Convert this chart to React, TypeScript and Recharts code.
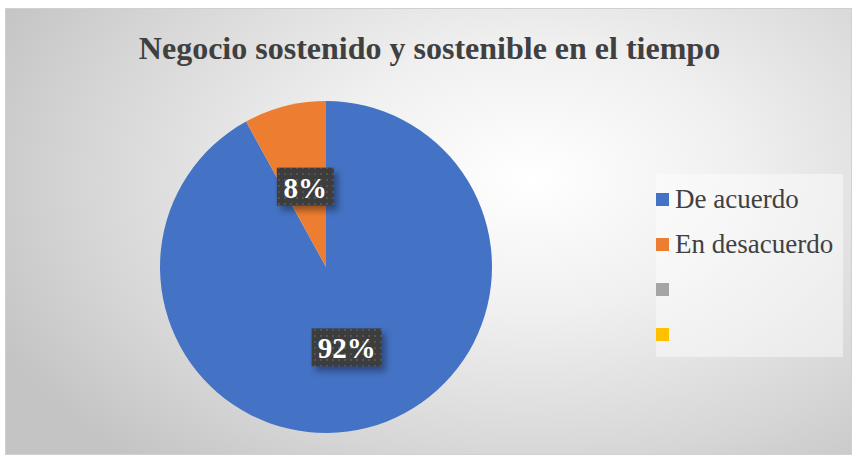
import { Pie, PieChart, Cell } from "recharts";

const categories = ["De acuerdo", "En desacuerdo", "", ""];
const values = [92, 8, 0, 0];
const colors = ["#4472C4", "#ED7D31", "#A5A5A5", "#FFC000"];
const title = "Negocio sostenido y sostenible en el tiempo";

const data = categories.map((name, i) => ({ name, value: values[i] }));

const RAD = Math.PI / 180;
const serif = "'Liberation Serif', 'Times New Roman', serif";

function PctLabel(props: any) {
  const { cx, cy, midAngle, outerRadius, percent, value } = props;
  if (!value) return null;
  const r = outerRadius * 0.5;
  const x = cx + r * Math.cos(-midAngle * RAD);
  const y = cy + r * Math.sin(-midAngle * RAD);
  const text = `${Math.round(percent * 100)}%`;
  const w = text.length * 13 + 31;
  const h = 38;
  return (
    <g>
      <rect x={x - w / 2 + 4} y={y - h / 2 + 5} width={w} height={h} fill="#000" opacity={0.35} filter="url(#blur)" />
      <rect x={x - w / 2} y={y - h / 2} width={w} height={h} fill="url(#dots)" />
      <text
        x={x}
        y={y + 1}
        textAnchor="middle"
        dominantBaseline="central"
        fill="#fff"
        fontFamily={serif}
        fontWeight="bold"
        fontSize={29}
      >
        {text}
      </text>
    </g>
  );
}

function LegendBox() {
  return (
    <div
      style={{
        position: "absolute",
        left: 655,
        top: 173,
        width: 187,
        height: 183,
        background: "rgba(255,255,255,0.45)",
        fontFamily: serif,
        fontSize: 27,
        color: "#404040",
      }}
    >
      {categories.map((name, i) => (
        <div key={i} style={{ position: "absolute", left: 0, top: 10 + i * 45, height: 30, display: "flex", alignItems: "center", whiteSpace: "nowrap" }}>
          <span style={{ display: "inline-block", width: 13, height: 13, background: colors[i], marginRight: 6 }} />
          <span>{name}</span>
        </div>
      ))}
    </div>
  );
}

export default function App() {
  return (
    <div style={{ position: "absolute", left: 0, top: 0, width: 857, height: 460, background: "#fff" }}>
      <div
        style={{
          position: "absolute",
          left: 5,
          top: 8,
          width: 847,
          height: 447,
          border: "1px solid #d0d0d0",
          boxSizing: "border-box",
          background: "radial-gradient(ellipse 70% 85% at 62% 38%, #ffffff 0%, #f0f0f0 35%, #d6d6d6 75%, #c4c4c4 100%)",
        }}
      >
        <div
          style={{
            position: "absolute",
            left: 0,
            top: 21,
            width: 847,
            textAlign: "center",
            fontFamily: serif,
            fontWeight: "bold",
            fontSize: 32,
            color: "#404040",
          }}
        >
          {title}
        </div>
        <PieChart
          width={847}
          height={447}
          margin={{ top: 0, right: 0, bottom: 0, left: 0 }}
          style={{ position: "absolute", left: 0, top: 0 }}
        >
          <defs>
            <pattern id="dots" width="6" height="6" patternUnits="userSpaceOnUse">
              <rect width="6" height="6" fill="#3d3d3d" />
              <rect x="2" y="2" width="2" height="2" fill="#545454" />
            </pattern>
            <filter id="blur" x="-20%" y="-20%" width="140%" height="140%">
              <feGaussianBlur stdDeviation="3" />
            </filter>
          </defs>
          <Pie
            data={data}
            dataKey="value"
            nameKey="name"
            cx={320}
            cy={258}
            outerRadius={166}
            startAngle={90}
            endAngle={-270}
            stroke="none"
            label={PctLabel}
            labelLine={false}
            isAnimationActive={false}
          >
            {data.map((_, i) => (
              <Cell key={i} fill={colors[i]} />
            ))}
          </Pie>
        </PieChart>
        <div style={{ position: "absolute", left: -5, top: -8 }}>
          <LegendBox />
        </div>
      </div>
    </div>
  );
}
